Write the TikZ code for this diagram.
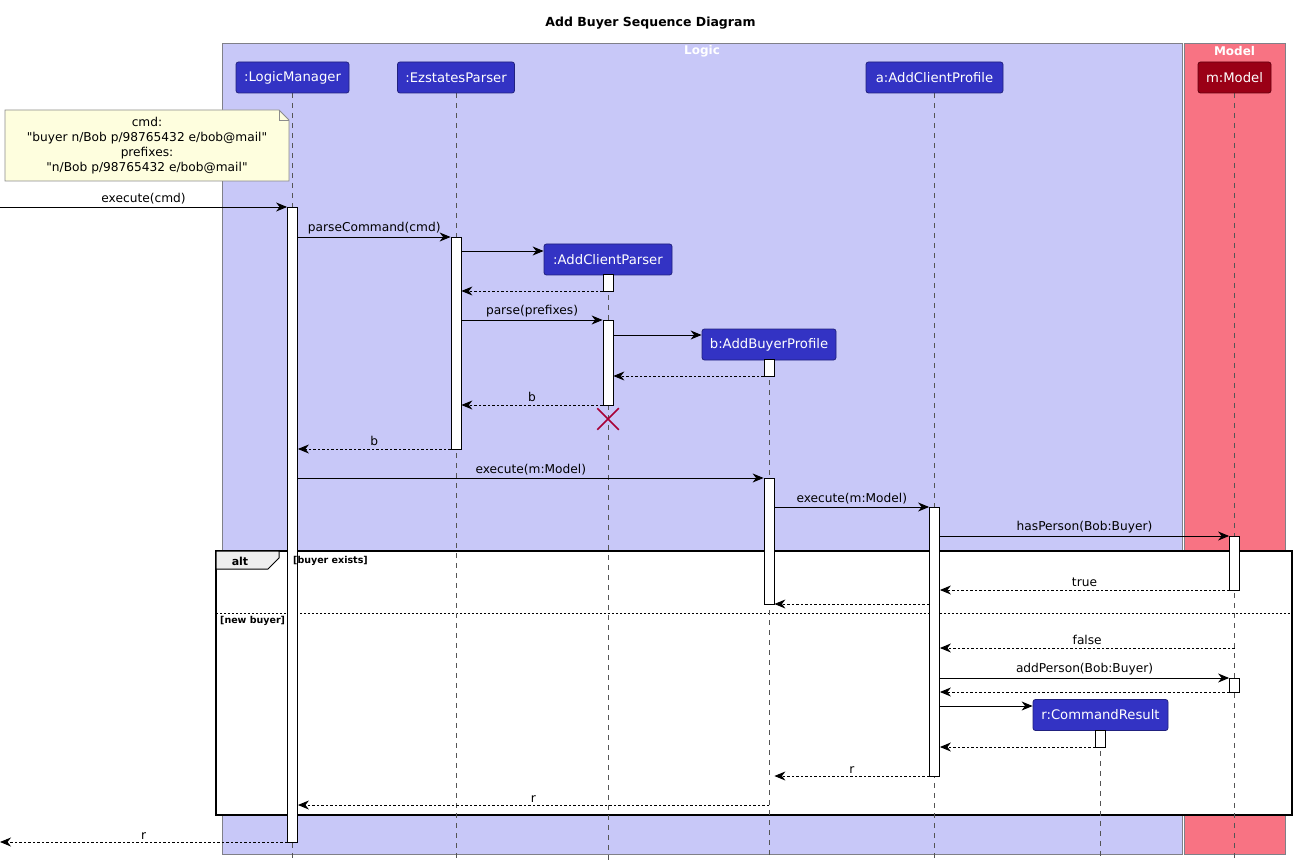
\documentclass[tikz,border=0pt]{standalone}
\usepackage{fontspec}
\setmainfont{DejaVu Sans}
\newfontfamily\notefont{DejaVu Sans}[Ligatures=TeXOff]
\usetikzlibrary{arrows.meta,shapes.misc}

\definecolor{logicbg}{RGB}{200,200,248}
\definecolor{modelbg}{RGB}{248,115,131}
\definecolor{boxline}{RGB}{128,128,136}
\definecolor{partblue}{RGB}{51,51,196}
\definecolor{partred}{RGB}{154,0,22}
\definecolor{notebg}{RGB}{254,254,222}
\definecolor{noteline}{RGB}{140,140,140}
\definecolor{destroyred}{RGB}{168,0,54}
\definecolor{tabgrey}{RGB}{238,238,238}
\definecolor{lifegrey}{RGB}{85,85,85}

\pgfdeclarelayer{boxes}
\pgfdeclarelayer{frame}
\pgfdeclarelayer{life}
\pgfsetlayers{boxes,frame,life,main}

\newcommand{\msgfont}{\fontsize{12.2}{14.6}\selectfont}

\begin{document}
\begin{tikzpicture}[x=1pt,y=-1pt,
  part/.style={rectangle, rounded corners=2.5pt, fill=partblue, draw=partblue!65!black,
    line width=0.8pt, text=white, font=\fontsize{13.2}{15}\selectfont,
    minimum height=31pt, inner sep=0pt},
  act/.style={rectangle, draw=black, fill=white, line width=0.8pt,
    minimum width=10pt, inner sep=0pt},
  lifeline/.style={draw=lifegrey, line width=0.6pt, dash pattern=on 5pt off 5pt},
  msg/.style={draw=black, line width=0.9pt,
    -{Stealth[length=11pt,width=9pt,inset=3.5pt]}},
  ret/.style={msg, dash pattern=on 2.5pt off 2pt},
  lbl/.style={midway, above, inner sep=2.5pt, font=\msgfont, text=black},
  guard/.style={font=\bfseries\fontsize{9.5}{11}\selectfont, anchor=west, inner sep=0pt},
  boxlabel/.style={font=\bfseries\fontsize{12}{14}\selectfont, text=white, inner sep=0pt}
]
\useasboundingbox (0,0) rectangle (1297,866);

% title
\node[font=\bfseries\fontsize{12.5}{15}\selectfont] (title) at (650.5,23) {Add Buyer Sequence Diagram};

% package boxes
\begin{pgfonlayer}{boxes}
  \draw[fill=logicbg, draw=boxline, line width=0.8pt] (222,43) rectangle (1182,854);
  \draw[fill=modelbg, draw=boxline, line width=0.8pt] (1184,43) rectangle (1285.5,854);
\end{pgfonlayer}
\node[boxlabel] (logiclbl) at (702,51) {Logic};
\node[boxlabel] (modellbl) at (1234.5,51) {Model};

% alt fragment body
\begin{pgfonlayer}{frame}
  \draw[fill=white, draw=black, line width=1.5pt] (216,551) rectangle (1292,815);
  \draw[black, line width=0.8pt, dash pattern=on 2pt off 2pt] (216,613) -- (1292,613);
\end{pgfonlayer}

% participants
\node[part, minimum width=113pt] (lm) at (292.5,77.5) {:LogicManager};
\node[part, minimum width=117pt] (ep) at (456,77.5) {:EzstatesParser};
\node[part, minimum width=137pt] (acpr) at (934.5,77.5) {a:AddClientProfile};
\node[part, fill=partred, draw=partred!65!black, minimum width=73pt] (mm) at (1234.5,77.5) {m:Model};
\node[part, minimum width=128pt] (acp) at (608,259.5) {:AddClientParser};
\node[part, minimum width=134pt] (abp) at (769,344.5) {b:AddBuyerProfile};
\node[part, minimum width=135pt] (cr) at (1100.5,715) {r:CommandResult};

% lifelines
\begin{pgfonlayer}{life}
  \foreach \p in {lm,ep,acpr,mm,acp,abp,cr}
    \draw[lifeline] (\p.south) -- (\p.south |- 0,860);
\end{pgfonlayer}

% activations
\node[act, minimum height=635pt] (lma) at (292.5,524.5) {};
\node[act, minimum height=212pt] (epa) at (456,343) {};
\node[act, minimum height=17pt] (acpa1) at (608,282.5) {};
\node[act, minimum height=85pt] (acpa2) at (608,362.5) {};
\node[act, minimum height=17pt] (abpa1) at (769,367.5) {};
\node[act, minimum height=126pt] (abpa2) at (769,541) {};
\node[act, minimum height=269pt] (acpra) at (934.5,641.5) {};
\node[act, minimum height=54pt] (mma1) at (1234.5,563) {};
\node[act, minimum height=14pt] (mma2) at (1234.5,685) {};
\node[act, minimum height=17pt] (cra) at (1100.5,738.5) {};

% outside endpoints
\coordinate (inpt) at (0,207);
\coordinate (outpt) at (0,842);

% messages
\draw[msg] (inpt) -- (lma.west |- 0,207) node[lbl] {execute(cmd)};
\draw[msg] (lma.east |- 0,237) -- (epa.west |- 0,237) node[lbl] {parseCommand(cmd)};
\draw[msg] (epa.east |- 0,251) -- (acp.west |- 0,251);
\draw[ret] (acpa1.west |- 0,291) -- (epa.east |- 0,291);
\draw[msg] (epa.east |- 0,320) -- (acpa2.west |- 0,320) node[lbl] {parse(prefixes)};
\draw[msg] (acpa2.east |- 0,335) -- (abp.west |- 0,335);
\draw[ret] (abpa1.west |- 0,376) -- (acpa2.east |- 0,376);
\draw[ret] (acpa2.west |- 0,405) -- (epa.east |- 0,405) node[lbl] {b};
\node[cross out, draw=destroyred, line width=1.5pt, minimum size=20pt, inner sep=0pt] (acpx) at (608,419) {};
\draw[ret] (epa.west |- 0,449) -- (lma.east |- 0,449) node[lbl] {b};
\draw[msg] (lma.east |- 0,478) -- (abpa2.west |- 0,478) node[lbl] {execute(m:Model)};
\draw[msg] (abpa2.east |- 0,507) -- (acpra.west |- 0,507) node[lbl] {execute(m:Model)};
\draw[msg] (acpra.east |- 0,536) -- (mma1.west |- 0,536) node[lbl] {hasPerson(Bob:Buyer)};
\draw[ret] (mma1.west |- 0,590) -- (acpra.east |- 0,590) node[lbl] {true};
\draw[ret] (acpra.west |- 0,604) -- (abpa2.east |- 0,604);
\draw[ret] (mm.south |- 0,648) -- (acpra.east |- 0,648) node[lbl] {false};
\draw[msg] (acpra.east |- 0,678) -- (mma2.west |- 0,678) node[lbl] {addPerson(Bob:Buyer)};
\draw[ret] (mma2.west |- 0,692) -- (acpra.east |- 0,692);
\draw[msg] (acpra.east |- 0,706) -- (cr.west |- 0,706);
\draw[ret] (cra.west |- 0,747) -- (acpra.east |- 0,747);
\draw[ret] (acpra.west |- 0,776) -- (abpa2.east |- 0,776) node[lbl] {r};
\draw[ret] (abp.south |- 0,805) -- (lma.east |- 0,805) node[lbl] {r};
\draw[ret] (lma.west |- 0,842) -- (outpt) node[lbl] {r};

% alt tab and guards
\draw[fill=tabgrey, draw=black, line width=1pt]
  (216,551) -- (279,551) -- (279,558) -- (268,569) -- (216,569) -- cycle;
\node[font=\bfseries\fontsize{11}{13}\selectfont, inner sep=0pt] (alttag) at (240,561) {alt};
\node[guard] (g1) at (293,561) {[buyer exists]};
\node[guard] (g2) at (220,621) {[new buyer]};

% note
\draw[fill=notebg, draw=noteline, line width=0.8pt]
  (5,110) -- (279,110) -- (289,120) -- (289,181) -- (5,181) -- cycle;
\draw[draw=noteline, line width=0.8pt] (279,110) -- (279,120) -- (289,120);
\node[font=\notefont\fontsize{12.2}{15.2}\selectfont, align=center, inner sep=0pt] (note) at (147,145.5)
  {cmd:\\"buyer n/Bob p/98765432 e/bob@mail"\\prefixes:\\"n/Bob p/98765432 e/bob@mail"};
\end{tikzpicture}
\end{document}
